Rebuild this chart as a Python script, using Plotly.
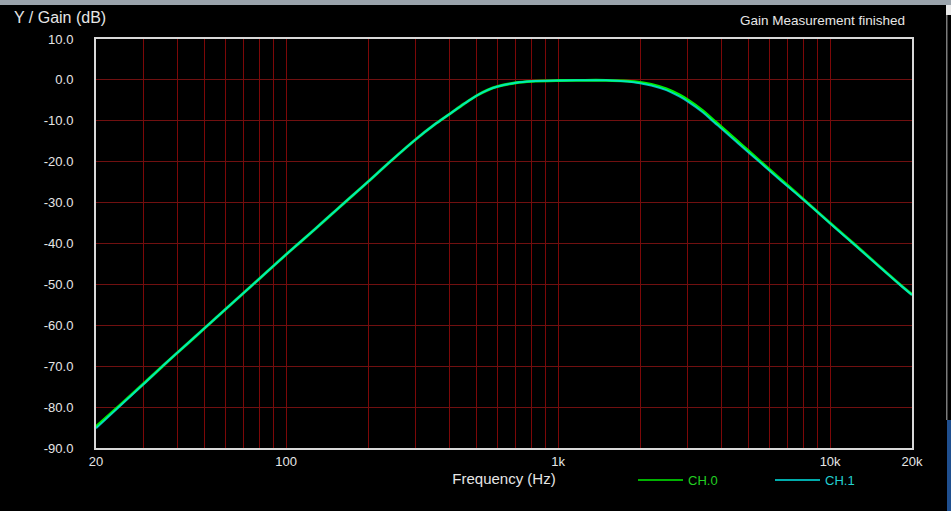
import plotly.graph_objects as go

# Frequency points (Hz)
freq = [20, 25, 30, 35, 40, 50, 60, 75, 100, 113, 140, 166, 200, 241, 300, 350,
        400, 450, 500, 550, 600, 700, 800, 1000, 1200, 1500, 1800, 2000, 2200,
        2500, 2800, 3000, 3400, 3750, 4000, 4500, 5000, 5600, 6500, 7500, 8300,
        10000, 12300, 15000, 18200, 20000]

# Gain (dB) CH.0
ch0 = [-84.8, -79.0, -74.2, -70.1, -66.6, -60.8, -56.0, -50.2, -42.7, -39.6,
       -34.1, -29.7, -24.9, -20.0, -14.5, -11.0, -8.3, -5.9, -3.9, -2.5, -1.6,
       -0.7, -0.35, -0.15, -0.1, -0.1, -0.3, -0.6, -1.1, -2.2, -3.7, -4.9, -7.5,
       -10.0, -11.6, -14.6, -17.3, -20.2, -24.0, -27.6, -30.2, -35.0, -40.2,
       -45.3, -50.2, -52.5]

# Gain (dB) CH.1
ch1 = [-85.2, -79.2, -74.3, -70.1, -66.6, -60.8, -56.0, -50.2, -42.7, -39.6,
       -34.1, -29.7, -24.9, -20.0, -14.5, -11.0, -8.3, -5.9, -3.9, -2.5, -1.6,
       -0.7, -0.35, -0.15, -0.1, -0.1, -0.4, -0.8, -1.35, -2.5, -4.1, -5.3, -7.9,
       -10.4, -12.0, -15.0, -17.7, -20.5, -24.3, -27.8, -30.3, -35.1, -40.3,
       -45.4, -50.3, -52.6]

# Axis ticks
x_major_vals = [20, 100, 1000, 10000, 20000]
x_major_text = ["20", "100", "1k", "10k", "20k"]
x_minor_vals = [30, 40, 50, 60, 70, 80, 90,
                200, 300, 400, 500, 600, 700, 800, 900,
                2000, 3000, 4000, 5000, 6000, 7000, 8000, 9000]
y_tickvals = [10, 0, -10, -20, -30, -40, -50, -60, -70, -80, -90]
y_ticktext = ["10.0", "0.0", "-10.0", "-20.0", "-30.0", "-40.0", "-50.0",
              "-60.0", "-70.0", "-80.0", "-90.0"]

W, H = 951, 511
L, R, T, B = 96, 912, 39, 448


def px(xp):
    return (xp - L) / (R - L)


def py(yp):
    return (B - yp) / (B - T)


GREEN = "#00ee00"
CYAN = "#00e6e6"
FONT = "Liberation Sans, Arial, sans-serif"
GRID_X = "#7c0808"
GRID_Y = "#701010"

fig = go.Figure()
fig.add_trace(go.Scatter(x=freq, y=ch0, mode="lines", line=dict(color=GREEN, width=2.8, shape="spline"),
                         showlegend=False, hoverinfo="skip"))
fig.add_trace(go.Scatter(x=freq, y=ch1, mode="lines", line=dict(color=CYAN, width=2.0, shape="spline"),
                         opacity=0.8, showlegend=False, hoverinfo="skip"))
# legend entries
fig.add_trace(go.Scatter(x=[None], y=[None], mode="lines", line=dict(color=GREEN, width=1.5),
                         name='<span style="color:#22d022">CH.0</span>'))
fig.add_trace(go.Scatter(x=[None], y=[None], mode="lines", line=dict(color=CYAN, width=1.5),
                         name='<span style="color:#22d0d0">CH.1</span>'))

fig.update_layout(
    width=W, height=H,
    margin=dict(l=L, r=W - R, t=T, b=H - B),
    paper_bgcolor="#000000", plot_bgcolor="#000000",
    font=dict(family=FONT, size=13, color="#e6e6e6"),
    showlegend=True,
    legend=dict(orientation="h", x=px(633), y=py(480), xanchor="left", yanchor="middle",
                bgcolor="rgba(0,0,0,0)", font=dict(size=13), itemwidth=45,
                entrywidth=77, entrywidthmode="pixels"),
    xaxis=dict(type="log", range=[1.30103, 4.30103], tickmode="array",
               tickvals=x_major_vals, ticktext=x_major_text,
               showgrid=True, gridcolor=GRID_X, gridwidth=1, zeroline=False,
               showline=True, mirror=True, linecolor="#d8d8d8", linewidth=2,
               ticks="", ticklen=0,
               minor=dict(tickmode="array", tickvals=x_minor_vals, showgrid=True,
                          gridcolor=GRID_X, gridwidth=1, ticks=""),
               tickfont=dict(size=13, color="#e6e6e6"),
               title=dict(text="Frequency (Hz)", font=dict(size=15, color="#e6e6e6"), standoff=6)),
    yaxis=dict(range=[-90, 10], tickvals=y_tickvals, ticktext=y_ticktext,
               showgrid=True, gridcolor=GRID_Y, gridwidth=1, zeroline=False,
               showline=True, mirror=True, linecolor="#d8d8d8", linewidth=2,
               ticks="outside", ticklen=18, tickcolor="rgba(0,0,0,0)",
               tickfont=dict(size=13, color="#e6e6e6")),
    annotations=[
        dict(text="Y / Gain (dB)", xref="paper", yref="paper", x=px(12), y=py(17),
             xanchor="left", yanchor="middle", showarrow=False,
             font=dict(size=16, color="#e6e6e6", family=FONT)),
        dict(text="Gain Measurement finished", xref="paper", yref="paper", x=px(907), y=py(20),
             xanchor="right", yanchor="middle", showarrow=False,
             font=dict(size=13.5, color="#e6e6e6", family=FONT)),
    ],
    shapes=[
        dict(type="rect", xref="paper", yref="paper", x0=px(0), x1=px(951), y0=py(5), y1=py(0),
             fillcolor="#9aa3ab", line=dict(width=0), layer="above"),
        dict(type="rect", xref="paper", yref="paper", x0=px(946), x1=px(951), y0=py(15), y1=py(5),
             fillcolor="#e8e8e8", line=dict(width=0), layer="above"),
        dict(type="rect", xref="paper", yref="paper", x0=px(946), x1=px(947.5), y0=py(420), y1=py(15),
             fillcolor="#7a7a7a", line=dict(width=0), layer="above"),
        dict(type="rect", xref="paper", yref="paper", x0=px(947), x1=px(951), y0=py(511), y1=py(420),
             fillcolor="#1f4f8f", line=dict(width=0), layer="above"),
    ],
)

fig.write_html("out.html", config={"displayModeBar": False},
               post_script="document.body.style.margin='0';document.body.style.padding='0';"
                           "document.body.style.background='#000';")
